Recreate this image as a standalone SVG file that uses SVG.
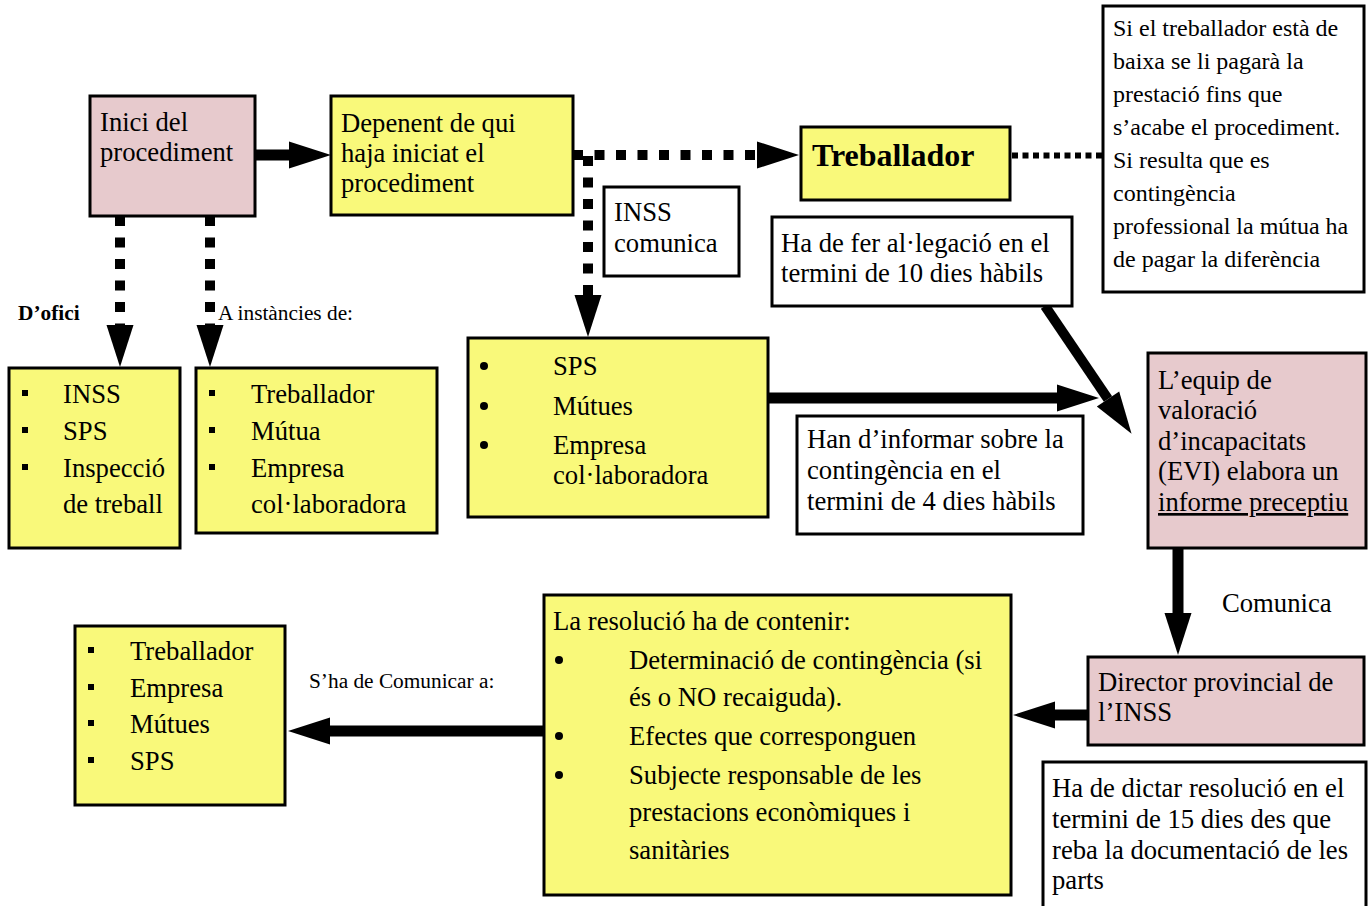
<svg xmlns="http://www.w3.org/2000/svg" xmlns:xlink="http://www.w3.org/1999/xlink" width="1372" height="906" viewBox="0 0 1372 906">
<defs>
<style>
text{font-family:"Liberation Serif","Times New Roman",serif;fill:#000}
.t{font-size:26.67px}
.s{font-size:24px}
.lbl{font-size:21.33px}
.b{font-weight:bold}
.box{stroke:#000;stroke-width:3}
.y{fill:#f9f97a}
.p{fill:#e7cacd}
.w{fill:#fff}
.solid{stroke:#000;stroke-width:11;fill:none}
.dot{stroke:#000;stroke-width:10;fill:none;stroke-dasharray:10 11.5}
.fine{stroke:#000;stroke-width:6;fill:none;stroke-dasharray:6 4.5}
.sq{fill:#000}
.bul{fill:#000}
</style>
<marker id="ah" markerUnits="userSpaceOnUse" markerWidth="42" markerHeight="28" refX="0" refY="13.5" orient="auto" overflow="visible">
<path d="M0,0 L42,13.5 L0,27 Z" fill="#000"/>
</marker>
</defs>
<rect width="1372" height="906" fill="#fff"/>

<g id="connectors">
<line class="solid" x1="255" y1="155" x2="289" y2="155" marker-end="url(#ah)"/>
<line class="dot" x1="120" y1="216" x2="120" y2="325" marker-end="url(#ah)"/>
<line class="dot" x1="210" y1="216" x2="210" y2="325" marker-end="url(#ah)"/>
<line class="dot" x1="573" y1="155" x2="757" y2="155" marker-end="url(#ah)"/>
<line class="dot" x1="588" y1="150" x2="588" y2="295" style="stroke-dashoffset:15.5" marker-end="url(#ah)"/>
<line class="fine" x1="1012" y1="155.5" x2="1103" y2="155.5"/>
<line class="solid" x1="768" y1="398" x2="1057" y2="398" marker-end="url(#ah)"/>
<line class="solid" style="stroke-width:10" x1="1045" y1="306" x2="1108" y2="399" marker-end="url(#ah)"/>
<line class="solid" x1="1178" y1="548" x2="1178" y2="613" marker-end="url(#ah)"/>
<line class="solid" x1="1088" y1="715" x2="1055" y2="715" marker-end="url(#ah)"/>
<line class="solid" x1="544" y1="731" x2="330" y2="731" marker-end="url(#ah)"/>
</g>

<g id="inici">
<rect class="box p" x="90" y="96" width="165" height="120"/>
<text class="t" x="100" y="131">Inici del</text>
<text class="t" x="100" y="161">procediment</text>
</g>

<g id="depenent">
<rect class="box y" x="331" y="96" width="242" height="119"/>
<text class="t" x="341" y="132">Depenent de qui</text>
<text class="t" x="341" y="162">haja iniciat el</text>
<text class="t" x="341" y="192">procediment</text>
</g>

<g id="treballador">
<rect class="box y" x="801" y="127" width="209" height="73"/>
<text class="b" style="font-size:32px" x="812" y="166">Treballador</text>
</g>

<g id="nota-baixa">
<rect class="box w" x="1103" y="6" width="261" height="286"/>
<text class="s" x="1113" y="36">Si el treballador està de</text>
<text class="s" x="1113" y="69">baixa se li pagarà la</text>
<text class="s" x="1113" y="102">prestació fins que</text>
<text class="s" x="1113" y="135">s’acabe el procediment.</text>
<text class="s" x="1113" y="168">Si resulta que es</text>
<text class="s" x="1113" y="201">contingència</text>
<text class="s" x="1113" y="234">professional la mútua ha</text>
<text class="s" x="1113" y="267">de pagar la diferència</text>
</g>

<g id="inss-comunica">
<rect class="box w" x="604" y="187" width="135" height="89"/>
<text class="t" x="614" y="221">INSS</text>
<text class="t" x="614" y="252">comunica</text>
</g>

<g id="alegacio">
<rect class="box w" x="772" y="217" width="300" height="89"/>
<text class="t" x="781" y="252">Ha de fer al·legació en el</text>
<text class="t" x="781" y="282">termini de 10 dies hàbils</text>
</g>

<g id="labels-inici">
<text class="lbl b" x="18" y="320">D’ofici</text>
<text class="lbl" x="218" y="320">A instàncies de:</text>
</g>

<g id="ofici">
<rect class="box y" x="9" y="368" width="171" height="180"/>
<rect class="sq" x="22" y="390" width="6" height="6"/>
<rect class="sq" x="22" y="427" width="6" height="6"/>
<rect class="sq" x="22" y="464" width="6" height="6"/>
<text class="t" x="63" y="403">INSS</text>
<text class="t" x="63" y="440">SPS</text>
<text class="t" x="63" y="477">Inspecció</text>
<text class="t" x="63" y="513">de treball</text>
</g>

<g id="instancies">
<rect class="box y" x="196" y="368" width="241" height="165"/>
<rect class="sq" x="209" y="390" width="6" height="6"/>
<rect class="sq" x="209" y="427" width="6" height="6"/>
<rect class="sq" x="209" y="464" width="6" height="6"/>
<text class="t" x="251" y="403">Treballador</text>
<text class="t" x="251" y="440">Mútua</text>
<text class="t" x="251" y="477">Empresa</text>
<text class="t" x="251" y="513">col·laboradora</text>
</g>

<g id="sps">
<rect class="box y" x="468" y="338" width="300" height="179"/>
<circle class="bul" cx="484" cy="366" r="4"/>
<circle class="bul" cx="484" cy="406" r="4"/>
<circle class="bul" cx="484" cy="445" r="4"/>
<text class="t" x="553" y="375">SPS</text>
<text class="t" x="553" y="415">Mútues</text>
<text class="t" x="553" y="454">Empresa</text>
<text class="t" x="553" y="484">col·laboradora</text>
</g>

<g id="informar">
<rect class="box w" x="797" y="416" width="286" height="118"/>
<text class="t" x="807" y="448">Han d’informar sobre la</text>
<text class="t" x="807" y="479">contingència en el</text>
<text class="t" x="807" y="510">termini de 4 dies hàbils</text>
</g>

<g id="evi">
<rect class="box p" x="1148" y="353" width="218" height="195"/>
<text class="t" x="1158" y="389">L’equip de</text>
<text class="t" x="1158" y="419">valoració</text>
<text class="t" x="1158" y="450">d’incapacitats</text>
<text class="t" x="1158" y="480">(EVI) elabora un</text>
<text class="t" x="1158" y="511" text-decoration="underline">informe preceptiu</text>
</g>

<g id="label-comunica">
<text class="t" x="1222" y="612">Comunica</text>
</g>

<g id="director">
<rect class="box p" x="1088" y="657" width="276" height="88"/>
<text class="t" x="1098" y="691">Director provincial de</text>
<text class="t" x="1098" y="721">l’INSS</text>
</g>

<g id="dictar">
<rect class="box w" x="1043" y="762" width="323" height="160"/>
<text class="t" x="1052" y="797">Ha de dictar resolució en el</text>
<text class="t" x="1052" y="828">termini de 15 dies des que</text>
<text class="t" x="1052" y="859">reba la documentació de les</text>
<text class="t" x="1052" y="889">parts</text>
</g>

<g id="resolucio">
<rect class="box y" x="544" y="595" width="467" height="300"/>
<text class="t" x="553" y="630">La resolució ha de contenir:</text>
<circle class="bul" cx="559" cy="660" r="4"/>
<circle class="bul" cx="559" cy="736" r="4"/>
<circle class="bul" cx="559" cy="775" r="4"/>
<text class="t" x="629" y="669">Determinació de contingència (si</text>
<text class="t" x="629" y="706">és o NO recaiguda).</text>
<text class="t" x="629" y="745">Efectes que corresponguen</text>
<text class="t" x="629" y="784">Subjecte responsable de les</text>
<text class="t" x="629" y="821">prestacions econòmiques i</text>
<text class="t" x="629" y="859">sanitàries</text>
</g>

<g id="label-comunicar">
<text class="lbl" x="309" y="688">S’ha de Comunicar a:</text>
</g>

<g id="destinataris">
<rect class="box y" x="75" y="626" width="210" height="179"/>
<rect class="sq" x="88" y="647" width="6" height="6"/>
<rect class="sq" x="88" y="684" width="6" height="6"/>
<rect class="sq" x="88" y="720" width="6" height="6"/>
<rect class="sq" x="88" y="757" width="6" height="6"/>
<text class="t" x="130" y="660">Treballador</text>
<text class="t" x="130" y="697">Empresa</text>
<text class="t" x="130" y="733">Mútues</text>
<text class="t" x="130" y="770">SPS</text>
</g>
</svg>
